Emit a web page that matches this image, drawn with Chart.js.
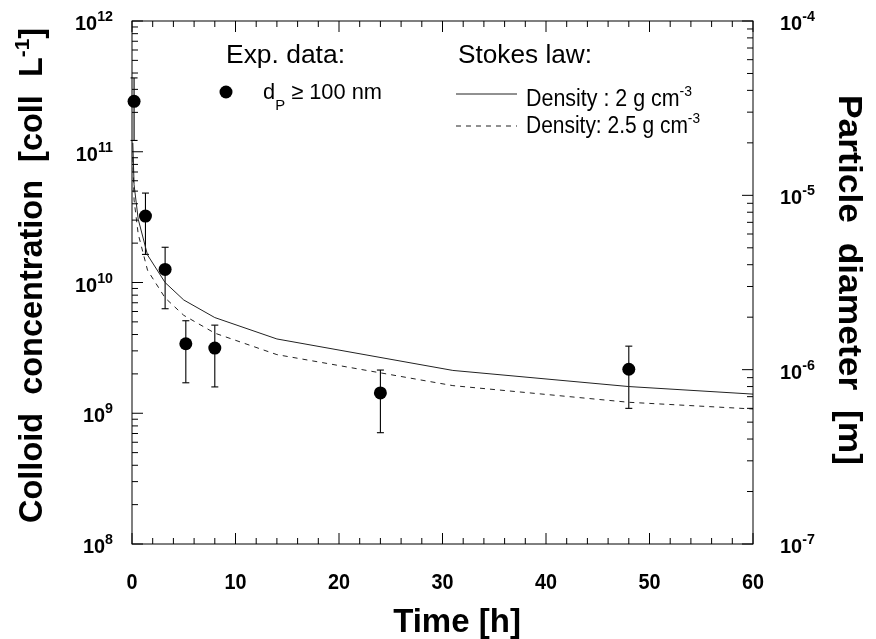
<!DOCTYPE html>
<html>
<head>
<meta charset="utf-8">
<script src="https://cdn.jsdelivr.net/npm/chart.js@4.4.0/dist/chart.umd.min.js"></script>
<style>
  html, body { margin: 0; background: #fff; }
  #wrap { width: 876px; height: 639px; }
</style>
</head>
<body>
<div id="wrap"><canvas id="chart"></canvas></div>
<script>
// measured colloids (d_P >= 100 nm)
const expTime = [0.2, 1.3, 3.2, 5.2, 8, 24, 48];
const expConc = [2.43e11, 3.22e10, 1.26e10, 3.4e9, 3.15e9, 1.43e9, 2.17e9];
const expHigh = [3.67e11, 4.83e10, 1.86e10, 5.1e9, 4.72e9, 2.14e9, 3.26e9];
const expLow  = [1.22e11, 1.64e10, 6.3e9, 1.71e9, 1.59e9, 7.1e8, 1.09e9];

// Stokes law, particle diameter [m]
const modelTime = [0.08, 0.2, 0.6, 1.5, 3.2, 5, 8, 14, 31, 48, 60];
const diam2   = [2.0e-5, 1.15e-5, 7.3e-6, 4.55e-6, 3.16e-6, 2.51e-6, 1.99e-6, 1.50e-6, 9.9e-7, 8.0e-7, 7.24e-7];
const diam25  = [1.65e-5, 9.4e-6, 6.0e-6, 3.72e-6, 2.58e-6, 2.05e-6, 1.62e-6, 1.22e-6, 8.1e-7, 6.5e-7, 5.95e-7];

const xTicks = [0, 10, 20, 30, 40, 50, 60];
const yDecades = [8, 9, 10, 11, 12];
const y2Decades = [-7, -6, -5, -4];

const FONT = '"Liberation Sans", Arial, sans-serif';

function rich(ctx, segs, x, y, o) {
  o = o || {};
  ctx.save();
  ctx.translate(x, y);
  if (o.rot) ctx.rotate(o.rot);
  const fnt = s => (o.bold ? 'bold ' : '') + s.s + 'px ' + FONT;
  const w = segs.map(s => { ctx.font = fnt(s); return ctx.measureText(s.t).width; });
  const total = w.reduce((a, b) => a + b, 0);
  const sx = o.width ? o.width / total : (o.sx || 1);
  ctx.scale(sx, 1);
  let cur = o.align === 'center' ? -total / 2 : o.align === 'right' ? -total : 0;
  ctx.textAlign = 'left';
  ctx.textBaseline = 'alphabetic';
  ctx.fillStyle = '#000';
  segs.forEach((s, i) => {
    ctx.font = fnt(s);
    ctx.fillText(s.t, cur, s.dy || 0);
    cur += w[i];
  });
  ctx.restore();
}

function line(ctx, x1, y1, x2, y2) {
  ctx.beginPath();
  ctx.moveTo(x1, y1);
  ctx.lineTo(x2, y2);
  ctx.stroke();
}

const errorBars = {
  id: 'errorBars',
  beforeDatasetsDraw(chart) {
    const ctx = chart.ctx, xs = chart.scales.x, ys = chart.scales.y;
    ctx.save();
    ctx.strokeStyle = '#000';
    ctx.lineWidth = 1.1;
    expTime.forEach((t, i) => {
      const px = xs.getPixelForValue(t);
      const hi = ys.getPixelForValue(expHigh[i]);
      const lo = ys.getPixelForValue(expLow[i]);
      line(ctx, px, hi, px, lo);
      line(ctx, px - 3.5, hi, px + 3.5, hi);
      line(ctx, px - 3.5, lo, px + 3.5, lo);
    });
    ctx.restore();
  }
};

const decor = {
  id: 'decor',
  afterDraw(chart) {
    const ctx = chart.ctx, a = chart.chartArea;
    const xs = chart.scales.x, ys = chart.scales.y, y2 = chart.scales.y2;
    ctx.save();
    ctx.strokeStyle = '#000';
    ctx.lineWidth = 1;
    // frame
    ctx.strokeRect(a.left, a.top, a.right - a.left, a.bottom - a.top);

    // x ticks, bottom and top, pointing in
    for (let v = xs.min; v <= xs.max; v += 2) {
      const px = xs.getPixelForValue(v);
      const len = v % 10 === 0 ? 11 : 6;
      line(ctx, px, a.bottom, px, a.bottom - len);
      line(ctx, px, a.top, px, a.top + len);
    }
    // log ticks, left and right
    const logTicks = (scale, decades, x0, dir) => {
      decades.forEach((n, k) => {
        for (let m = 1; m <= 9; m++) {
          if (k === decades.length - 1 && m > 1) break;
          const py = scale.getPixelForValue(m * Math.pow(10, n));
          line(ctx, x0, py, x0 + dir * (m === 1 ? 11 : 6), py);
        }
      });
    };
    logTicks(ys, yDecades, a.left, 1);
    logTicks(y2, y2Decades, a.right, -1);

    // tick labels
    xTicks.forEach(v => {
      rich(ctx, [{ t: String(v), s: 22 }], xs.getPixelForValue(v), 589, { bold: true, align: 'center', sx: 0.9 });
    });
    yDecades.forEach(n => {
      const py = ys.getPixelForValue(Math.pow(10, n));
      rich(ctx, [{ t: '10', s: 21 }, { t: String(n), s: 15, dy: -9 }], 113, py + 9, { bold: true, align: 'right', sx: 0.95 });
    });
    y2Decades.forEach(n => {
      const py = y2.getPixelForValue(Math.pow(10, n));
      rich(ctx, [{ t: '10', s: 21 }, { t: String(n), s: 15, dy: -9 }], 780, py + 9, { bold: true, align: 'left', sx: 0.95 });
    });

    // axis titles
    rich(ctx, [{ t: 'Time [h]', s: 33 }], 457, 632, { bold: true, align: 'center' });
    rich(ctx, [{ t: 'Colloid  concentration  [coll  L', s: 33 }, { t: '-1', s: 21, dy: -13 }, { t: ']', s: 33 }],
      42, 275.5, { bold: true, align: 'center', rot: -Math.PI / 2, width: 495 });
    rich(ctx, [{ t: 'Particle  diameter  [m]', s: 33 }], 839, 280, { bold: true, align: 'center', rot: Math.PI / 2, width: 370 });

    // legend
    rich(ctx, [{ t: 'Exp. data:', s: 26 }], 226, 63, { width: 119 });
    ctx.fillStyle = '#000';
    ctx.beginPath();
    ctx.arc(226, 92, 6.5, 0, Math.PI * 2);
    ctx.fill();
    rich(ctx, [{ t: 'd', s: 22 }, { t: 'P', s: 15, dy: 11 }, { t: ' \u2265 100 nm', s: 22 }], 263, 99, { width: 119 });

    rich(ctx, [{ t: 'Stokes law:', s: 26 }], 458, 63, { width: 134 });
    ctx.strokeStyle = '#222';
    line(ctx, 456, 94, 517, 94);
    ctx.setLineDash([5, 5]);
    line(ctx, 456, 126, 517, 126);
    ctx.setLineDash([]);
    rich(ctx, [{ t: 'Density : 2 g cm', s: 23 }, { t: '-3', s: 15, dy: -10 }], 526, 106, { width: 166 });
    rich(ctx, [{ t: 'Density: 2.5 g cm', s: 23 }, { t: '-3', s: 15, dy: -10 }], 526, 133, { width: 174 });
    ctx.restore();
  }
};

const pts = (xa, ya) => xa.map((x, i) => ({ x, y: ya[i] }));

new Chart(document.getElementById('chart'), {
  type: 'scatter',
  data: {
    datasets: [
      { label: 'd_P >= 100 nm', data: pts(expTime, expConc), yAxisID: 'y',
        pointRadius: 6.5, pointBackgroundColor: '#000', pointBorderColor: '#000', pointBorderWidth: 0, clip: false },
      { label: 'Density : 2 g cm-3', data: pts(modelTime, diam2), yAxisID: 'y2', showLine: true,
        borderColor: '#222', borderWidth: 1, pointRadius: 0, tension: 0 },
      { label: 'Density: 2.5 g cm-3', data: pts(modelTime, diam25), yAxisID: 'y2', showLine: true,
        borderColor: '#222', borderWidth: 1, borderDash: [5, 5], pointRadius: 0, tension: 0 }
    ]
  },
  options: {
    responsive: true,
    maintainAspectRatio: false,
    animation: false,
    devicePixelRatio: 1,
    layout: { padding: { left: 132, right: 123, top: 21, bottom: 95 } },
    plugins: { legend: { display: false }, tooltip: { enabled: false } },
    scales: {
      x: { type: 'linear', min: 0, max: 60, ticks: { display: false }, grid: { display: false, drawTicks: false }, border: { display: false } },
      y: { type: 'logarithmic', position: 'left', min: 1e8, max: 1e12, ticks: { display: false }, grid: { display: false, drawTicks: false }, border: { display: false } },
      y2: { type: 'logarithmic', position: 'right', min: 1e-7, max: 1e-4, ticks: { display: false }, grid: { display: false, drawTicks: false }, border: { display: false } }
    }
  },
  plugins: [errorBars, decor]
});
</script>
</body>
</html>
